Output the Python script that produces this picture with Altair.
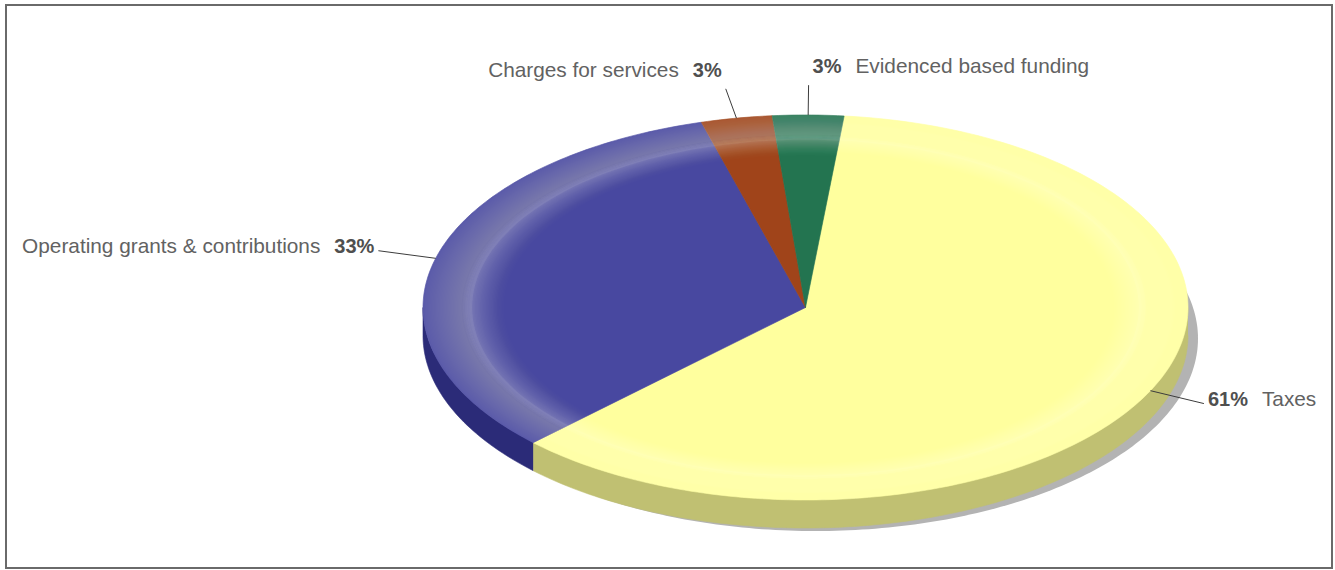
import numpy as np
import pandas as pd
import altair as alt

# ---------------- data ----------------
categories = ["Taxes", "Operating grants & contributions",
              "Charges for services", "Evidenced based funding"]
shares = [61, 33, 3, 3]
top_colors = ["#FFFF9E", "#4848A0", "#A0441A", "#237450"]
side_colors = ["#C0C072", "#2B2B78", "#6A2C10", "#144C34"]

# ---------------- layout (pixels / style) ----------------
PAD_L, PAD_T, PAD_R, PAD_B = 6, 5, 3, 2
W, H = 1335 - PAD_L - PAD_R, 570 - PAD_T - PAD_B
CX, CY = 805.5 - PAD_L, 307.5 - PAD_T      # pie centre inside plot area
RX, RY = 382.5, 192.5                      # ellipse radii in px
DEPTH = 28 / RY                            # thickness, in y units
SH_DX, SH_DY = 10 / RX, 31 / RY            # shadow offset (ellipse below the pie)
START_DEG = 5.8
LABEL_R = 1.155
FONT = "Liberation Sans"
NAME_SIZE, PCT_SIZE = 20.8, 20

x_dom = [-CX / RX, (W - CX) / RX]
y_dom = [-(H - CY) / RY, CY / RY]
xs_ = alt.Scale(domain=x_dom, nice=False, zero=False)
ys_ = alt.Scale(domain=y_dom, nice=False, zero=False)

total = sum(shares)
bounds = np.concatenate([[0], np.cumsum(shares)]) / total * 360 + START_DEG
a0s, a1s = bounds[:-1], bounds[1:]


def arc(a0, a1, step=1.0):
    n = max(2, int(np.ceil(abs(a1 - a0) / step)) + 1)
    return np.radians(np.linspace(a0, a1, n))


def add_poly(rows, pid, xs, ys, **extra):
    for i, (x, y) in enumerate(zip(xs, ys)):
        rows.append(dict(pid=pid, i=i, x=round(float(x), 5), y=round(float(y), 5), **extra))


# top faces
top_rows = []
for k, (a0, a1) in enumerate(zip(a0s, a1s)):
    t = arc(a0, a1)
    xs = np.concatenate([[0], np.sin(t), [0]])
    ys = np.concatenate([[0], np.cos(t), [0]])
    add_poly(top_rows, categories[k], xs, ys, fill=top_colors[k])
top_df = pd.DataFrame(top_rows)

# visible side walls (front half: 90..270 deg)
side_rows = []
for k, (a0, a1) in enumerate(zip(a0s, a1s)):
    for off in (0, 360):
        lo, hi = max(a0, 90 + off), min(a1, 270 + off)
        if hi > lo:
            t = arc(lo, hi)
            xs = np.concatenate([np.sin(t), np.sin(t[::-1])])
            ys = np.concatenate([np.cos(t), np.cos(t[::-1]) - DEPTH])
            add_poly(side_rows, f"{categories[k]}-{off}", xs, ys, fill=side_colors[k])
side_df = pd.DataFrame(side_rows)

# drop shadow: ellipse offset below / right of the pie
sh_rows = []
ts = arc(0, 360)
add_poly(sh_rows, "shadow", np.sin(ts) + SH_DX, np.cos(ts) - SH_DY)
sh_df = pd.DataFrame(sh_rows)

# bevel highlight ring on top surface: nested white annuli, soft meeting edge
PEAK, S_IN, W_PEAK, W_EDGE, EPS = 0.885, 0.77, 0.36, 0.10, 0.014


def target_up(s):
    return W_PEAK * ((s - S_IN) / (PEAK - S_IN)) ** 1.6


def target_down(s):
    return W_EDGE + (W_PEAK - W_EDGE) * ((1 - s) / (1 - PEAK))


def alphas(ws):
    out, prev = [], 0.0
    for w in ws:
        a = 1 - (1 - w) / (1 - prev) if prev < 1 else 0
        out.append(max(0.0, a))
        prev = w
    return out


g_rows = []
tt = arc(0, 360, 2.0)
N = 28
# rising part: annuli [s_j, PEAK + jitter]
up_s = np.linspace(S_IN, PEAK - EPS, N + 1)[:-1]
up_w = [target_up(s + (PEAK - EPS - S_IN) / N) for s in up_s]
for j, (s, a) in enumerate(zip(up_s, alphas(up_w))):
    so = PEAK + EPS * (2 * ((j * 11) % N + 0.5) / N - 1)
    xs = np.concatenate([so * np.sin(tt), s * np.sin(tt[::-1])])
    ys = np.concatenate([so * np.cos(tt), s * np.cos(tt[::-1])])
    add_poly(g_rows, f"u{j}", xs, ys, op=round(a, 5))
# falling part: annuli [PEAK + jitter, s_j], outermost first
dn_s = np.linspace(1.0, PEAK + EPS, N + 1)[:-1]
dn_w = [target_down(s - (1 - PEAK - EPS) / N) for s in dn_s]
dn_w[0] = W_EDGE
for j, (s, a) in enumerate(zip(dn_s, alphas(dn_w))):
    si = PEAK + EPS * (2 * ((j * 11) % N + 0.5) / N - 1)
    xs = np.concatenate([s * np.sin(tt), si * np.sin(tt[::-1])])
    ys = np.concatenate([s * np.cos(tt), si * np.cos(tt[::-1])])
    add_poly(g_rows, f"d{j}", xs, ys, op=round(a, 5))
g_df = pd.DataFrame(g_rows)

# labels & leader lines
lab_rows = []
for k, (a0, a1) in enumerate(zip(a0s, a1s)):
    m = np.radians((a0 + a1) / 2)
    ex, ey = np.sin(m), np.cos(m)
    lx, ly = LABEL_R * ex, LABEL_R * ey
    right = ex >= 0
    top = abs(ey) > 0.9
    sgn = 1 if right else -1
    pct = f"{round(100 * shares[k] / total)}%"
    pct_w = PCT_SIZE * (0.556 * (len(pct) - 1) + 0.889)
    lab_rows.append(dict(
        name=categories[k], pct=pct, side="R" if right else "L",
        ex=ex, ey=ey, lx=lx, ly=ly,
        ty=ly + (18 if top else 4) / RY,
        px=lx + sgn * 4 / RX,
        nx=lx + sgn * (4 + pct_w + 14) / RX,
    ))
lab_df = pd.DataFrame(lab_rows)


def X(f):
    return alt.X(f, type="quantitative", scale=xs_, axis=None)


def Y(f):
    return alt.Y(f, type="quantitative", scale=ys_, axis=None)


def poly_enc():
    return dict(x=X("x"), y=Y("y"), order=alt.Order("i:Q"), detail="pid:N")


shadow = alt.Chart(sh_df).mark_line(filled=True, color="#B3B3B3",
                                    strokeOpacity=0, strokeWidth=0).encode(**poly_enc())

sides = alt.Chart(side_df).mark_line(filled=True, strokeWidth=0.6).encode(
    color=alt.Color("fill:N", scale=None), stroke=alt.Stroke("fill:N", scale=None),
    **poly_enc())

tops = alt.Chart(top_df).mark_line(filled=True, strokeWidth=0.6).encode(
    color=alt.Color("fill:N", scale=None), stroke=alt.Stroke("fill:N", scale=None),
    **poly_enc())

glow_layer = alt.Chart(g_df).mark_line(filled=True, color="white",
                                       strokeOpacity=0, strokeWidth=0).encode(
    fillOpacity=alt.FillOpacity("op:Q", scale=None), **poly_enc())

leaders = alt.Chart(lab_df).mark_rule(color="#3c3c3c", strokeWidth=1).encode(
    x=X("ex"), y=Y("ey"), x2=alt.X2("lx"), y2=alt.Y2("ly"))

texts = []
for side, align in (("L", "right"), ("R", "left")):
    base = alt.Chart(lab_df).transform_filter(alt.datum.side == side)
    texts.append(base.mark_text(align=align, baseline="middle", font=FONT, fontSize=PCT_SIZE,
                                fontWeight="bold", color="#4f4f4f").encode(
        x=X("px"), y=Y("ty"), text="pct:N"))
    texts.append(base.mark_text(align=align, baseline="middle", font=FONT, fontSize=NAME_SIZE,
                                color="#626262").encode(
        x=X("nx"), y=Y("ty"), text="name:N"))

chart = alt.layer(shadow, sides, tops, glow_layer, leaders, *texts).properties(
    width=W, height=H,
    padding={"left": PAD_L, "top": PAD_T, "right": PAD_R, "bottom": PAD_B},
    autosize=alt.AutoSizeParams(type="none"),
    background="white",
).configure_view(stroke="#6a6a6a", strokeWidth=2)

chart.save("out.html", embed_options={"renderer": "svg", "actions": False})
